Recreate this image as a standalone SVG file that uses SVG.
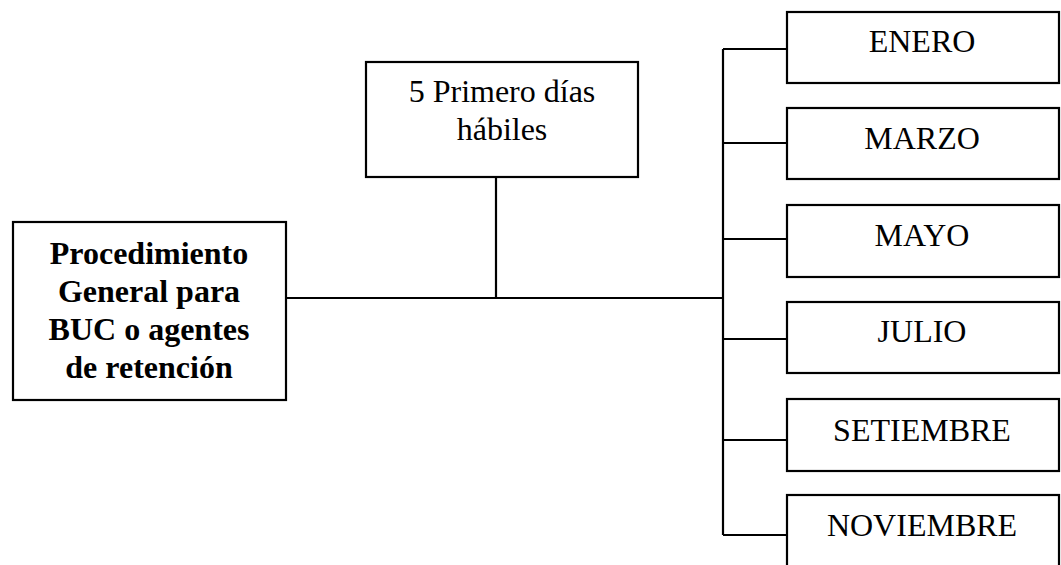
<svg xmlns="http://www.w3.org/2000/svg" width="1061" height="565" viewBox="0 0 1061 565">
<style>
.box{fill:#fff;stroke:#000;stroke-width:2.2}
.ln{stroke:#000;stroke-width:2.2;fill:none}
.t{font-family:"Liberation Serif","Times New Roman",serif;font-size:32px;fill:#000;text-anchor:middle}
.b{font-weight:bold}
</style>
<rect width="1061" height="565" fill="#fff"/>
<g id="connectors">
<path class="ln" d="M286 298H723M496 177V298M723 49V535M723 49H787M723 143H787M723 239H787M723 339H787M723 440H787M723 535H787"/>
</g>
<g id="n-proc">
<rect class="box" x="13" y="222" width="273" height="178"/>
<text class="t b" x="149" y="264">Procedimiento</text>
<text class="t b" x="149" y="302">General para</text>
<text class="t b" x="149" y="340">BUC o agentes</text>
<text class="t b" x="149" y="378">de retención</text>
</g>
<g id="n-dias">
<rect class="box" x="366" y="62" width="272" height="115"/>
<text class="t" x="502" y="102">5 Primero días</text>
<text class="t" x="502" y="140">hábiles</text>
</g>
<g id="n-enero"><rect class="box" x="787" y="12" width="272" height="71"/><text class="t" x="922" y="52">ENERO</text></g>
<g id="n-marzo"><rect class="box" x="787" y="108" width="272" height="71"/><text class="t" x="922" y="149">MARZO</text></g>
<g id="n-mayo"><rect class="box" x="787" y="205" width="272" height="72"/><text class="t" x="922" y="246">MAYO</text></g>
<g id="n-julio"><rect class="box" x="787" y="302" width="272" height="71"/><text class="t" x="922" y="342">JULIO</text></g>
<g id="n-set"><rect class="box" x="787" y="399" width="272" height="72"/><text class="t" x="922" y="441">SETIEMBRE</text></g>
<g id="n-nov"><rect class="box" x="787" y="495" width="272" height="80"/><text class="t" x="922" y="536">NOVIEMBRE</text></g>
</svg>
